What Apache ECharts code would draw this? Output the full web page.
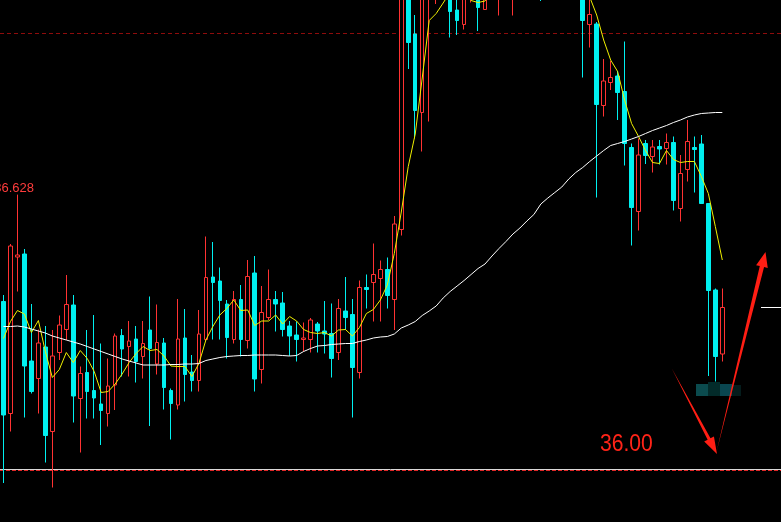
<!DOCTYPE html>
<html>
<head>
<meta charset="utf-8">
<script src="https://cdn.jsdelivr.net/npm/echarts@6/dist/echarts.min.js"></script>
<style>
html,body{margin:0;padding:0;background:#000;}
#chart{width:781px;height:522px;}
</style>
</head>
<body>
<div id="chart"></div>
<script>
// ---- data ----
const opens = [34.49,32.25,35.38,35.44,33.30,32.95,33.58,31.89,33.47,33.93,
34.42,32.55,33.07,32.71,32.44,32.25,32.82,33.81,33.59,33.74,
33.39,33.92,33.24,33.66,32.71,32.42,33.76,33.08,32.91,33.73,
34.98,34.90,34.44,33.73,34.53,33.71,35.06,33.13,34.17,34.53,
34.46,34.00,33.82,33.73,33.73,34.04,33.90,33.85,33.47,34.30,
34.23,33.07,34.77,34.87,34.95,35.13,34.53,35.93,41.12,39.84,
38.27,40.62,40.72,40.92,40.92,40.32,40.03,40.72,40.82,40.33,
41.32,40.92,41.72,41.02,41.12,41.92,41.22,41.52,40.92,41.52,
41.02,41.42,41.12,40.72,40.03,40.04,38.41,38.87,39.00,38.69,
37.57,36.29,37.65,37.39,37.59,37.55,37.67,36.35,37.13,37.57,
37.64,36.45,34.72,33.44];
const closes = [32.22,35.60,35.42,33.20,32.69,33.66,31.81,33.40,34.02,34.43,
32.60,33.05,32.69,32.56,32.31,32.80,33.80,33.54,33.70,33.29,
33.65,33.55,33.67,32.77,32.45,33.74,33.03,32.91,33.84,34.97,
34.87,34.51,33.77,34.53,33.73,34.99,32.94,34.27,34.53,34.44,
33.93,33.80,33.73,33.76,34.12,33.90,33.84,33.35,34.35,34.17,
33.17,34.77,34.73,35.03,35.13,34.61,36.04,41.32,39.67,38.31,
40.92,41.32,41.42,41.52,40.29,40.11,40.92,41.32,40.37,41.02,
40.72,41.52,41.12,41.62,41.72,41.22,41.92,40.82,41.42,41.02,
41.42,40.92,40.72,40.11,40.23,38.43,38.90,38.97,38.67,37.65,
36.37,37.42,37.41,37.58,37.54,37.67,36.51,37.05,37.69,37.53,
36.45,34.71,33.39,34.37];
const lows = [30.86,31.89,34.69,32.17,32.65,32.25,31.27,30.77,33.32,33.72,
32.07,31.47,32.15,32.15,31.62,31.99,32.32,32.99,32.99,32.87,
32.95,32.00,33.03,32.33,31.73,32.33,32.49,32.69,32.69,33.70,
33.73,33.73,33.35,33.65,33.39,33.55,32.69,32.85,34.12,33.89,
33.79,33.40,33.29,33.49,33.47,33.47,33.45,32.97,33.32,33.92,
32.17,32.95,34.35,34.09,34.09,34.35,33.92,35.81,39.14,37.75,
37.49,38.09,40.44,40.72,39.77,39.82,39.93,40.47,39.90,40.33,
40.62,40.21,40.92,40.21,40.92,41.02,41.02,40.50,40.72,40.82,
40.82,40.72,40.62,38.97,39.57,36.57,38.19,38.72,38.12,37.21,
35.61,35.91,37.24,37.07,37.23,37.23,36.31,36.09,36.89,36.67,
36.44,33.00,32.89,33.29];
const highs = [34.62,35.64,36.628,35.54,34.44,33.93,34.00,33.92,34.21,35.02,
34.62,33.19,33.92,34.22,33.65,33.35,33.85,33.94,34.10,34.00,
34.10,34.59,34.43,33.76,32.75,34.54,34.34,33.42,34.32,35.79,
35.68,35.17,34.52,34.70,34.82,35.32,35.40,34.80,35.13,34.70,
34.68,34.10,34.09,34.07,34.16,34.08,34.50,34.45,34.54,34.98,
34.54,34.91,35.03,35.65,35.31,35.37,36.20,41.52,41.32,40.22,
41.12,41.52,41.72,41.72,41.12,40.72,41.22,41.62,41.02,41.22,
41.52,41.72,41.92,41.82,41.92,42.12,42.12,41.72,41.62,41.72,
41.62,41.62,41.32,40.92,40.62,40.08,39.34,39.30,39.10,39.69,
37.65,37.75,37.72,37.72,37.72,37.85,37.79,37.42,38.12,37.79,
37.82,36.45,34.75,34.75];
const maFast = [33.75,34.09,34.31,34.24,33.87,34.11,33.49,32.97,33.13,33.47,
33.27,33.51,33.35,33.09,32.67,32.69,32.84,33.04,33.27,33.45,
33.59,33.51,33.53,33.40,33.20,33.19,33.19,32.99,33.25,33.72,
33.99,34.22,34.35,34.52,34.31,34.32,34.01,34.10,34.10,34.22,
34.04,34.19,34.10,33.93,33.87,33.85,33.87,33.80,33.92,33.93,
33.80,33.97,34.25,34.33,34.52,34.82,35.45,36.28,37.19,37.84,
38.96,40.11,40.25,40.46,40.68,40.82,40.72,40.51,40.47,40.50,
40.72,40.92,41.02,41.12,41.22,41.32,41.32,41.22,41.22,41.12,
41.12,41.02,40.92,40.72,40.58,40.22,39.72,39.32,39.09,38.52,
38.05,37.79,37.51,37.27,37.25,37.51,37.33,37.27,37.29,37.29,
36.99,36.65,35.99,35.32];
const maSlow = [33.99,33.99,34.00,33.98,33.94,33.90,33.86,33.80,33.76,33.72,
33.68,33.64,33.59,33.54,33.49,33.44,33.39,33.34,33.30,33.26,
33.22,33.22,33.22,33.22,33.23,33.23,33.24,33.24,33.25,33.31,
33.34,33.37,33.39,33.40,33.41,33.41,33.42,33.42,33.42,33.42,
33.41,33.40,33.41,33.49,33.55,33.60,33.61,33.63,33.64,33.65,
33.65,33.69,33.72,33.76,33.78,33.79,33.84,33.96,34.02,34.09,
34.21,34.30,34.40,34.56,34.69,34.80,34.91,35.03,35.15,35.24,
35.40,35.55,35.69,35.84,35.96,36.10,36.23,36.44,36.56,36.67,
36.78,36.94,37.07,37.17,37.29,37.40,37.51,37.61,37.65,37.69,
37.74,37.79,37.85,37.91,37.96,38.01,38.07,38.12,38.18,38.22,
38.25,38.26,38.27,38.27];
const levelLines = [39.853, 31.14, 31.114];
const lastPrice = [34.39];
const highLabel = '36.628';
const targetLabel = '36.00';
const categories = opens.map((_, i) => 'K' + (i + 1));

// ---- chart ----
const candles = opens.map((o, i) => [o, closes[i], lows[i], highs[i]]);
const chart = echarts.init(document.getElementById('chart'), null, {renderer: 'canvas'});
const UP = '#ff3232', DOWN = '#00f0f0';

function arrow(x0, y0, tx, ty, headLen, headHalf, shaftHalf) {
  const dx = tx - x0, dy = ty - y0, L = Math.hypot(dx, dy);
  const ux = dx / L, uy = dy / L, nx = -uy, ny = ux;
  const bx = tx - ux * headLen, by = ty - uy * headLen;
  return [[x0, y0],
    [bx + nx * shaftHalf, by + ny * shaftHalf],
    [bx + nx * headHalf, by + ny * headHalf],
    [tx, ty],
    [bx - nx * headHalf, by - ny * headHalf],
    [bx - nx * shaftHalf, by - ny * shaftHalf]];
}

chart.setOption({
  backgroundColor: '#000000',
  animation: false,
  grid: {left: -2.2, right: 55.2, top: 0, bottom: 0},
  xAxis: {type: 'category', data: categories, show: false, boundaryGap: true},
  yAxis: {type: 'value', min: 30.08, max: 40.52, show: false, scale: true, splitLine: {show: false}},
  series: [
    {
      type: 'candlestick',
      data: candles,
      barWidth: 4,
      clip: true,
      itemStyle: {color: '#000000', color0: DOWN, borderColor: UP, borderColor0: DOWN, borderWidth: 1}
    },
    {type: 'line', data: maFast, symbol: 'none', clip: true, lineStyle: {color: '#f0f000', width: 1}, z: 3},
    {type: 'line', data: maSlow, symbol: 'none', clip: true, lineStyle: {color: '#ffffff', width: 1}, z: 3}
  ]
});

// level lines across the full window, positioned through the y axis
const yPix = v => Math.round(chart.convertToPixel({yAxisIndex: 0}, v)) + 0.5;
const W = 781;
chart.setOption({
  graphic: [
    {type: 'line', z: 1, shape: {x1: 0, y1: yPix(levelLines[0]), x2: W, y2: yPix(levelLines[0])}, style: {stroke: '#8e0c0c', lineWidth: 1, lineDash: [4, 3]}},
    {type: 'line', z: 1, shape: {x1: 0, y1: yPix(levelLines[1]), x2: W, y2: yPix(levelLines[1])}, style: {stroke: '#d8d8d8', lineWidth: 1}},
    {type: 'line', z: 1, shape: {x1: 0, y1: yPix(levelLines[2]), x2: W, y2: yPix(levelLines[2])}, style: {stroke: '#e02828', lineWidth: 1, lineDash: [4, 2]}},
    {type: 'line', z: 10, shape: {x1: 761, y1: yPix(lastPrice[0]), x2: W, y2: yPix(lastPrice[0])}, style: {stroke: '#ffffff', lineWidth: 1}},
    {type: 'text', z: 10, style: {text: highLabel, x: 34, y: 188, textAlign: 'right', textVerticalAlign: 'middle', fill: '#ff3c3c', font: '13px "Liberation Sans"'}},
    {type: 'rect', z: 10, shape: {x: 696, y: 384, width: 12, height: 12}, style: {fill: '#0b4b4e'}},
    {type: 'rect', z: 10, shape: {x: 708, y: 382, width: 12, height: 14}, style: {fill: '#032b2a'}},
    {type: 'rect', z: 10, shape: {x: 720, y: 384, width: 12, height: 12}, style: {fill: '#0a4650'}},
    {type: 'rect', z: 10, shape: {x: 732, y: 385, width: 9, height: 11}, style: {fill: '#041c1c'}},
    {type: 'polygon', z: 11, shape: {points: arrow(671.7, 368.3, 717, 454, 17, 5.5, 1.6)}, style: {fill: '#ff1e14'}},
    {type: 'polygon', z: 11, shape: {points: arrow(716.5, 452, 765.5, 252, 15, 6, 2.2)}, style: {fill: '#ff1e14'}},
    {type: 'text', z: 11, x: 600, y: 444, scaleX: 0.88, style: {text: targetLabel, x: 0, y: 0, textVerticalAlign: 'middle', fill: '#ff2418', font: '24px "Liberation Sans"'}}
  ]
});
</script>
</body>
</html>
